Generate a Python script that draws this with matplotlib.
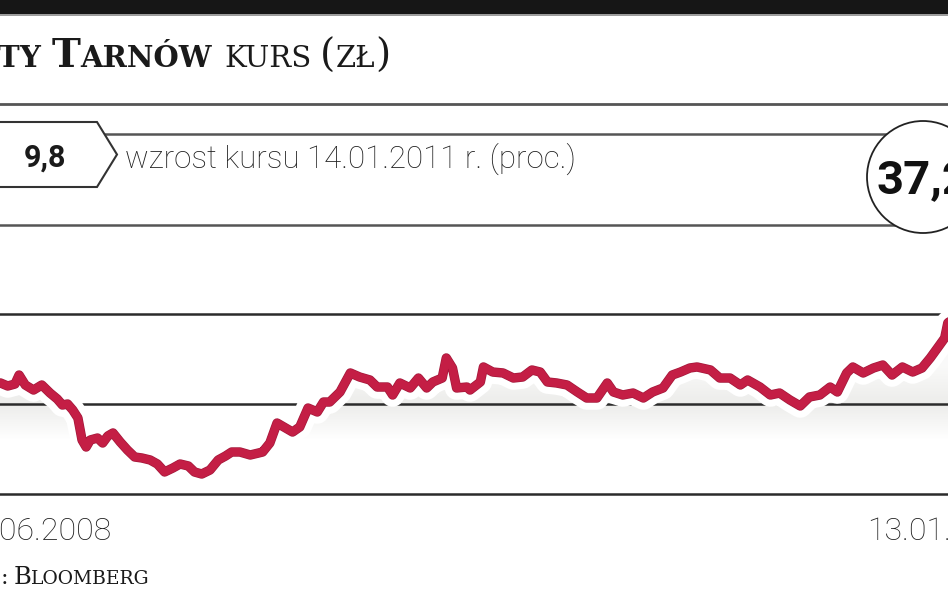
import matplotlib
matplotlib.use('Agg')
import matplotlib.pyplot as plt
import matplotlib.patheffects as pe
from matplotlib.patches import Polygon, Circle, Rectangle
import numpy as np

# share price (zl), days counted from 13.06.2008
days = [8, 15, 22, 29, 33, 39, 47, 55, 63, 70, 75, 80, 85, 90, 94, 98, 102, 109,
        114, 119, 124, 131, 138, 145, 152, 160, 167, 174, 182, 189, 197, 203, 210,
        218, 226, 233, 239, 247, 257, 265, 269, 276, 283, 298, 305, 313, 322, 328,
        334, 344, 354, 363, 373, 380, 390, 395, 402, 412, 420, 428, 434, 443, 447,
        453, 457, 467, 470, 480, 483, 492, 502, 512, 521, 530, 538, 545, 554, 564,
        574, 583, 593, 603, 609, 618, 628, 638, 647, 657, 666, 674, 683, 690, 703,
        712, 722, 732, 739, 751, 761, 770, 780, 790, 799, 809, 819, 826, 835, 841,
        851, 861, 870, 879, 889, 899, 908, 916, 923, 930, 933, 940]
price = [28.4, 28.5, 28.0, 28.33, 29.83, 28.17, 27.33, 28.17, 26.83, 25.83, 24.83,
         25.0, 24.0, 22.67, 19.0, 17.83, 19.0, 19.33, 18.5, 19.67, 20.17, 18.67,
         17.33, 16.17, 16.0, 15.67, 15.0, 13.67, 14.33, 15.0, 14.67, 13.67, 13.33,
         14.0, 15.67, 16.33, 17.0, 17.0, 16.5, 16.83, 17.0, 18.5, 21.83, 20.33,
         21.17, 24.33, 23.67, 25.33, 25.33, 27.0, 30.17, 29.5, 29.0, 27.83, 27.83,
         26.5, 28.5, 27.67, 29.33, 27.67, 28.67, 29.33, 32.67, 31.0, 27.67, 27.83,
         27.33, 28.67, 31.17, 30.33, 30.17, 29.33, 29.5, 30.67, 30.33, 28.67, 28.5,
         28.17, 27.0, 26.0, 26.0, 28.5, 27.0, 26.5, 26.83, 26.0, 27.0, 27.67,
         29.83, 30.33, 31.0, 31.17, 30.67, 29.33, 29.33, 28.17, 29.0, 27.83, 26.5,
         26.83, 25.67, 24.67, 26.17, 26.5, 27.83, 27.0, 30.17, 31.17, 30.17, 31.0,
         31.5, 29.83, 31.17, 30.33, 31.0, 32.67, 34.33, 36.0, 38.5, 39.6]
grid_levels = [10, 25, 40]
date_labels = ['13.06.2008', '13.01.2011']
jump_value = '9,8'
jump_text = 'wzrost kursu 14.01.2011 r. (proc.)'
last_price = '37,2'

W, H = 948, 593
RED = '#c41e45'
DARK = '#2b2b2b'
SANS = ['Roboto', 'DejaVu Sans']
SERIF = ['DejaVu Serif']

fig = plt.figure(figsize=(W / 100, H / 100), dpi=100)
fig.patch.set_facecolor('white')
bg = fig.add_axes([0, 0, 1, 1])
bg.set_xlim(0, W)
bg.set_ylim(H, 0)
bg.axis('off')
rend = fig.canvas.get_renderer()


def text_width(s, size, weight, family):
    t = bg.text(0, 0, s, fontsize=size, fontweight=weight, family=family)
    w = t.get_window_extent(rend).width
    t.remove()
    return w


def caps_run(x, y, pieces, family, color, lead=None):
    # pieces: (text, size, weight, gap after)
    if lead:
        x -= sum(text_width(s, sz, wt, family) + g for s, sz, wt, g in lead)
        pieces = lead + pieces
    for s, sz, wt, g in pieces:
        bg.text(x, y, s, fontsize=sz, fontweight=wt, family=family,
                color=color, va='baseline', ha='left')
        x += text_width(s, sz, wt, family) + g
    return x


# header band and rules
bg.add_patch(Rectangle((0, 0), W, 13.5, color='#161616', lw=0))
bg.plot([0, W], [15, 15], color='#8a8a8a', lw=1.2)
bg.plot([0, W], [103.5, 103.5], color='#555555', lw=2)

# title (cut off on the left, small caps)
big, small = 28, 21
caps_run(-2, 67,
         [('T', small, 'bold', 0), ('Y', small, 'bold', 11),
          ('T', big, 'bold', 0), ('ARNÓW', small, 'bold', 13),
          ('KURS', small, 'normal', 8), ('(', big, 'normal', 0),
          ('ZŁ', small, 'normal', 0), (')', big, 'normal', 0)],
         SERIF, '#1a1a1a',
         lead=[('A', big, 'bold', 0), ('ZO', small, 'bold', 0)])

# callout bar
bg.plot([0, W], [134, 134], color='#555555', lw=1.8)
bg.plot([0, W], [225, 225], color='#555555', lw=1.8)
bg.add_patch(Polygon([(-5, 122), (97, 122), (117, 154.5), (97, 187), (-5, 187)],
                     closed=True, fc='white', ec='#333333', lw=1.5, zorder=3))
bg.text(45, 167, jump_value, fontsize=22, fontweight='bold', family=SANS,
        color='#1a1a1a', ha='center', va='baseline', zorder=4)
bg.text(125, 168, jump_text, fontsize=22.5, fontweight='light', family=SANS,
        color='#1f1f1f', ha='left', va='baseline', zorder=4)
bg.add_patch(Circle((923, 177), 56, fc='white', ec='#222222', lw=1.3, zorder=3))
bg.text(923, 193, last_price, fontsize=34, fontweight='bold', family=SANS,
        color='#111111', ha='center', va='baseline', zorder=4)

# chart
ax = fig.add_axes([0, (H - 494) / H, 1, 180 / H])
ax.axis('off')
x0, x1 = 14.5, 933.2
y0, y1 = grid_levels[0], grid_levels[-1]

for lv in grid_levels:
    ax.axhline(lv, color=DARK, lw=1.8, zorder=2, clip_on=False)

# soft shadow under the line
floor = 19
shade = ax.fill_between(days, price, floor, color='none', lw=0)
gy = np.linspace(floor, y1, 300)
alpha = np.where(gy <= 25, 0.26 * (gy - floor) / (25 - floor),
                 0.26 * np.clip(1 - (gy - 25) / 9, 0.3, 1))
grad = np.zeros((len(gy), 1, 4))
grad[:, 0, :3] = (0.72, 0.72, 0.69)
grad[:, 0, 3] = alpha
im = ax.imshow(grad, extent=[days[0], days[-1], floor, y1], origin='lower',
               aspect='auto', zorder=1, interpolation='bilinear')
im.set_clip_path(shade.get_paths()[0], transform=ax.transData)

ax.plot(days, price, color=RED, lw=5.8, zorder=3, clip_on=False,
        solid_joinstyle='round', solid_capstyle='round',
        path_effects=[pe.Stroke(linewidth=17, foreground='white'),
                      pe.Stroke(linewidth=6.8, foreground='#a3183a'),
                      pe.Normal()])
ax.set_xlim(x0, x1)
ax.set_ylim(y0, y1)

# date labels
bg.text(111, 540, date_labels[0], fontsize=23, fontweight='light', family=SANS,
        color='#1f1f1f', ha='right', va='baseline')
bg.text(867, 540, date_labels[1], fontsize=23, fontweight='light', family=SANS,
        color='#1f1f1f', ha='left', va='baseline')

# source
caps_run(1, 584, [(':', 16, 'normal', 5), ('B', 17.5, 'normal', 0),
                  ('LOOMBERG', 13.5, 'normal', 0)],
         SERIF, '#1a1a1a',
         lead=[('Ź', 17.5, 'normal', 0), ('RÓDŁO', 13.5, 'normal', 0)])

fig.savefig('out.png', dpi=100, facecolor='white')
